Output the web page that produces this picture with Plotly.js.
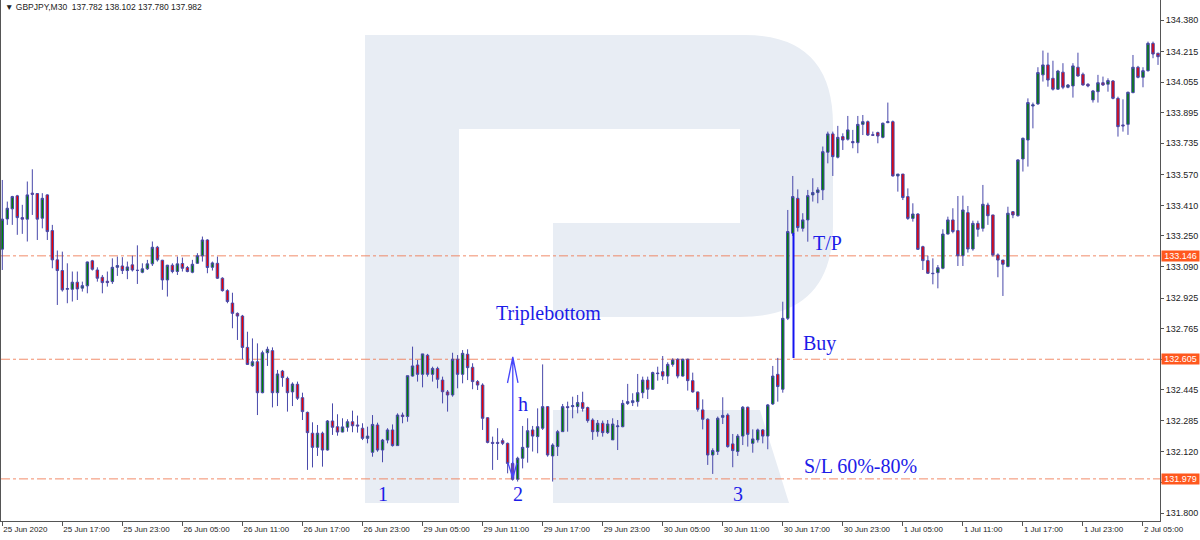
<!DOCTYPE html>
<html>
<head>
<meta charset="utf-8">
<script src="https://cdn.plot.ly/plotly-3.0.1.min.js"></script>
<style>html,body{margin:0;padding:0;background:#fff;}#chart{width:1200px;height:540px;}</style>
</head>
<body>
<div id="chart"></div>
<script>
// ---- data (GBPJPY M30) ----
const openP = [
133.181,133.339,133.392,133.460,133.346,133.338,133.474,133.472,133.343,133.465,
133.278,133.125,133.069,132.971,132.971,133.008,132.977,132.989,133.120,133.072,
133.034,133.013,133.011,133.086,133.093,133.069,133.099,133.070,133.060,133.078,
133.104,133.191,133.123,133.020,133.097,133.064,133.106,133.085,133.060,133.107,
133.146,133.229,133.086,133.107,133.029,132.964,132.899,132.845,132.831,132.667,
132.571,132.592,132.430,132.639,132.650,132.430,132.543,132.505,132.434,132.474,
132.404,132.327,132.218,132.144,132.218,132.130,132.282,132.252,132.224,132.249,
132.278,132.261,132.244,132.191,132.118,132.261,132.130,132.182,132.235,132.153,
132.313,132.305,132.517,132.575,132.526,132.626,132.526,132.557,132.496,132.434,
132.418,132.605,132.526,132.631,132.563,132.488,132.470,132.299,132.170,132.170,
132.179,132.165,132.060,131.977,132.087,132.144,132.235,132.200,132.244,132.357,
132.099,132.148,132.226,132.357,132.357,132.357,132.378,132.352,132.287,132.226,
132.270,132.221,132.183,132.252,132.252,132.374,132.378,132.383,132.430,132.496,
132.448,132.533,132.540,132.517,132.578,132.605,132.517,132.605,132.493,132.434,
132.340,132.291,132.104,132.122,132.301,132.313,132.162,132.122,132.203,132.354,
132.165,132.183,132.235,132.203,132.371,132.526,132.448,132.819,133.264,133.447,
133.290,133.334,133.465,133.477,133.491,133.688,133.784,133.662,133.770,133.756,
133.744,133.738,133.834,133.848,133.780,133.791,133.766,133.843,133.848,133.564,
133.574,133.456,133.342,133.365,133.194,133.121,133.055,133.058,133.081,133.260,
133.334,133.278,133.147,133.372,133.182,133.316,133.290,133.412,133.360,133.151,
133.124,133.090,133.377,133.356,133.653,133.752,133.930,133.941,134.093,134.145,
134.075,134.018,134.107,134.028,134.035,134.133,134.096,134.044,133.962,134.005,
134.052,134.044,134.061,133.970,133.831,133.834,134.000,134.133,134.080,134.115,
134.258,134.206];
const highP = [
133.543,133.430,133.460,133.465,133.413,133.535,133.599,133.474,133.474,133.468,
133.308,133.174,133.168,133.107,133.064,133.064,133.011,133.116,133.125,133.086,
133.046,133.064,133.133,133.142,133.139,133.116,133.147,133.201,133.107,133.125,
133.221,133.198,133.125,133.099,133.107,133.142,133.137,133.093,133.125,133.160,
133.247,133.233,133.116,133.142,133.034,132.971,132.953,132.850,132.837,132.749,
132.714,132.688,132.650,132.671,132.667,132.549,132.549,132.514,132.484,132.488,
132.430,132.331,132.275,132.261,132.226,132.287,132.374,132.317,132.296,132.291,
132.336,132.310,132.270,132.252,132.313,132.273,132.188,132.244,132.264,132.322,
132.326,132.519,132.671,132.601,132.633,132.633,132.566,132.566,132.514,132.444,
132.639,132.627,132.653,132.657,132.584,132.496,132.479,132.301,132.200,132.244,
132.191,132.169,132.069,132.095,132.256,132.296,132.256,132.348,132.578,132.360,
132.165,132.235,132.371,132.383,132.409,132.418,132.435,132.357,132.296,132.287,
132.284,132.287,132.296,132.287,132.392,132.476,132.427,132.528,132.514,132.514,
132.540,132.566,132.622,132.589,132.610,132.610,132.608,132.608,132.535,132.435,
132.395,132.296,132.139,132.305,132.406,132.322,132.214,132.214,132.360,132.357,
132.238,132.242,132.240,132.371,132.570,132.612,132.906,133.386,133.564,133.494,
133.369,133.491,133.552,133.505,133.718,133.796,133.796,133.826,133.787,133.878,
133.805,133.878,133.883,133.854,133.796,133.796,133.843,133.948,133.854,133.574,
133.574,133.499,133.421,133.369,133.199,133.147,133.133,133.098,133.285,133.351,
133.395,133.459,133.461,133.407,133.330,133.330,133.517,133.424,133.360,133.159,
133.124,133.403,133.380,133.651,133.765,133.970,133.948,134.133,134.220,134.209,
134.167,134.119,134.154,134.045,134.154,134.209,134.105,134.049,134.014,134.093,
134.084,134.075,134.066,133.979,133.965,134.005,134.197,134.140,134.133,134.267,
134.267,134.209];
const lowP = [
133.072,133.308,133.308,133.256,133.261,133.221,133.360,133.229,133.290,133.229,
133.081,132.889,132.959,132.898,132.907,132.915,132.959,132.950,133.069,133.011,
132.950,132.985,132.999,133.041,133.051,133.024,133.064,132.999,133.055,133.072,
133.093,133.116,132.968,132.933,133.055,133.046,133.064,133.060,133.055,133.104,
133.116,133.055,133.069,133.025,132.959,132.898,132.767,132.706,132.605,132.575,
132.566,132.313,132.427,132.570,132.353,132.360,132.461,132.331,132.360,132.392,
132.287,132.026,132.039,132.099,132.043,132.127,132.209,132.205,132.223,132.226,
132.223,132.221,132.182,132.165,132.095,132.121,132.066,132.165,132.148,132.151,
132.270,132.278,132.514,132.488,132.458,132.514,132.488,132.453,132.374,132.331,
132.409,132.453,132.479,132.496,132.448,132.444,132.235,132.165,132.026,132.078,
132.156,132.008,131.970,131.965,132.034,132.064,132.122,132.113,132.235,132.095,
131.965,132.099,132.226,132.226,132.296,132.322,132.331,132.273,132.183,132.200,
132.200,132.214,132.183,132.130,132.249,132.366,132.360,132.357,132.401,132.397,
132.444,132.493,132.496,132.476,132.566,132.505,132.514,132.441,132.430,132.331,
132.238,132.052,132.005,132.104,132.266,132.142,132.040,132.099,132.156,132.148,
132.116,132.169,132.165,132.134,132.366,132.383,132.430,132.810,133.250,133.273,
133.273,133.220,133.430,133.421,133.438,133.630,133.564,133.656,133.700,133.749,
133.709,133.683,133.778,133.773,133.773,133.735,133.761,133.840,133.561,133.482,
133.438,133.334,133.325,133.177,133.072,133.051,132.997,132.976,133.076,133.258,
133.264,133.093,133.093,133.163,133.173,133.246,133.273,133.308,133.142,133.034,
132.936,133.086,133.343,133.351,133.587,133.613,133.813,133.936,134.058,134.031,
134.011,134.014,134.018,134.023,133.974,134.084,134.037,134.028,133.948,133.948,
134.035,134.005,133.965,133.770,133.796,133.779,133.997,134.075,134.028,134.110,
134.180,134.145];
const closeP = [
133.338,133.395,133.456,133.346,133.338,133.465,133.468,133.338,133.447,133.273,
133.125,133.069,132.968,132.975,133.008,132.973,132.990,133.114,133.076,133.029,
133.006,133.006,133.086,133.095,133.069,133.088,133.072,133.070,133.078,133.104,
133.191,133.125,133.020,133.097,133.064,133.104,133.081,133.064,133.102,133.147,
133.229,133.085,133.109,133.029,132.964,132.907,132.845,132.831,132.667,132.578,
132.592,132.430,132.639,132.657,132.430,132.528,132.509,132.430,132.475,132.401,
132.331,132.221,132.144,132.218,132.130,132.282,132.249,132.224,132.251,132.278,
132.257,132.256,132.191,132.203,132.264,132.130,132.182,132.235,132.153,132.313,
132.305,132.519,132.570,132.526,132.633,132.526,132.557,132.500,132.435,132.418,
132.605,132.526,132.636,132.561,132.488,132.470,132.296,132.170,132.165,132.165,
132.165,132.060,131.977,132.087,132.144,132.231,132.203,132.252,132.357,132.104,
132.156,132.226,132.357,132.352,132.362,132.378,132.348,132.284,132.226,132.270,
132.221,132.266,132.266,132.256,132.374,132.383,132.388,132.430,132.496,132.448,
132.535,132.530,132.517,132.578,132.601,132.517,132.605,132.493,132.434,132.343,
132.291,132.104,132.127,132.296,132.311,132.148,132.127,132.203,132.354,132.212,
132.188,132.235,132.203,132.366,132.517,132.462,132.819,133.273,133.456,133.294,
133.334,133.461,133.477,133.491,133.691,133.784,133.665,133.766,133.752,133.805,
133.738,133.834,133.848,133.778,133.777,133.773,133.840,133.848,133.564,133.574,
133.451,133.342,133.365,133.180,133.121,133.055,133.053,133.084,133.260,133.334,
133.273,133.147,133.386,133.182,133.316,133.285,133.416,133.356,133.151,133.124,
133.102,133.369,133.360,133.648,133.761,133.948,133.936,134.105,134.145,134.066,
134.018,134.113,134.028,134.040,134.140,134.087,134.040,134.035,134.009,134.052,
134.040,134.063,133.970,133.822,133.826,134.002,134.133,134.080,134.115,134.258,
134.202,134.188];

const xTickLabels = ["25 Jun 2020","25 Jun 17:00","25 Jun 23:00","26 Jun 05:00","26 Jun 11:00",
"26 Jun 17:00","26 Jun 23:00","29 Jun 05:00","29 Jun 11:00","29 Jun 17:00","29 Jun 23:00",
"30 Jun 05:00","30 Jun 11:00","30 Jun 17:00","30 Jun 23:00","1 Jul 05:00","1 Jul 11:00",
"1 Jul 17:00","1 Jul 23:00","2 Jul 05:00"];
const barsPerTick = 12;
const yTickValues = [134.380,134.215,134.055,133.895,133.735,133.570,133.410,133.250,133.090,
132.925,132.765,132.605,132.445,132.285,132.120,131.960,131.800];
const levels = [133.146, 132.605, 131.979];
const headerText = "GBPJPY,M30  137.782 138.102 137.780 137.982";

// ---- layout helpers ----
const W = 1200, H = 540;
const M = {l: 1, r: 40, t: 0, b: 19};
const pw = W - M.l - M.r, ph = H - M.t - M.b;
const PX = x => (x - M.l) / pw;
const PY = y => 1 - (y - M.t) / ph;
function path(cmds) {
  return cmds.map(c => {
    if (c.length === 1) return c[0];
    let s = c[0];
    for (let k = 1; k < c.length; k += 2) s += ' ' + PX(c[k]).toFixed(5) + ',' + PY(c[k+1]).toFixed(5);
    return s;
  }).join(' ');
}

const idx = openP.map((_, i) => i);
const tickVals = xTickLabels.map((_, k) => k * barsPerTick);
// a tick label hidden behind a level badge on the price scale is left blank
const yTickText = yTickValues.map(v => levels.some(l => Math.abs(l - v) < 0.03) && !levels.includes(v) ? '' : v.toFixed(3));

const logoColor = 'rgb(232,237,244)';
const blueText = 'rgb(28,28,232)';
const arrowBlue = 'rgb(70,70,250)';
const levelColor = 'rgba(240,120,80,0.85)';

const shapes = [
  // stylised R watermark
  {type:'path', xref:'paper', yref:'paper', layer:'below', line:{width:0}, fillcolor:logoColor,
   path: path([['M',365,35],['L',745,35],['Q',833,35,833,125],['L',833,225],['Q',833,317,740,317],
     ['L',553,317],['L',553,223],['L',740,223],['L',740,129],['L',459,129],['L',459,503],['L',365,503],['Z']])},
  {type:'path', xref:'paper', yref:'paper', layer:'below', line:{width:0}, fillcolor:logoColor,
   path: path([['M',553,410],['L',760,410],['L',789,503],['L',553,503],['Z']])},
];
levels.forEach(v => shapes.push({type:'line', xref:'paper', yref:'y', x0:0, x1:1, y0:v, y1:v,
  layer:'below', line:{color:levelColor, width:1, dash:'dashdot'}}));
// h arrow (double headed)
shapes.push({type:'path', xref:'paper', yref:'paper', layer:'above', line:{color:arrowBlue, width:1.3},
  path: path([['M',512.8,478],['L',512.8,357],['M',507.5,383],['L',512.8,357],['L',518,383],
              ['M',508,463],['L',512.8,478],['L',517,463]])});
// Buy line
shapes.push({type:'line', xref:'paper', yref:'paper', layer:'above', x0:PX(793.5), x1:PX(793.5),
  y0:PY(233), y1:PY(358), line:{color:'rgb(20,20,240)', width:2}});

function txt(t, x, y, opts) {
  return Object.assign({text:t, xref:'paper', yref:'paper', x:PX(x), y:PY(y), showarrow:false,
    xanchor:'center', yanchor:'middle', font:{family:'Liberation Serif, serif', size:20, color:blueText}}, opts||{});
}
const annotations = [
  {text:'▼ ' + headerText, xref:'paper', yref:'paper', x:PX(3), y:PY(7), xanchor:'left', yanchor:'middle',
   showarrow:false, font:{family:'Liberation Sans, Arial', size:8.5, color:'#222'}},
  txt('Triplebottom', 548.5, 313),
  txt('T/P', 828, 243),
  txt('Buy', 819, 343),
  txt('S/L 60%-80%', 802, 466, {xanchor:'left'}),
  txt('1', 383, 494),
  txt('2', 518, 494),
  txt('3', 738, 494),
  txt('h', 523, 404),
];
levels.forEach(v => annotations.push({text:v.toFixed(3), xref:'paper', yref:'y', x:1, y:v,
  xanchor:'left', yanchor:'middle', xshift:1, showarrow:false, bgcolor:'rgb(255,88,30)',
  width:37, height:10, borderpad:0, align:'center',
  font:{family:'Liberation Sans, Arial', size:9, color:'#ffffff'}}));

const trace = {
  type:'candlestick', x: idx, open: openP, high: highP, low: lowP, close: closeP,
  increasing:{line:{color:'rgb(72,72,170)', width:1}, fillcolor:'rgb(0,128,0)'},
  decreasing:{line:{color:'rgb(72,72,170)', width:1}, fillcolor:'rgb(235,0,0)'},
  whiskerwidth:0, hoverinfo:'skip', showlegend:false
};

const layout = {
  width:W, height:H, margin:M, paper_bgcolor:'#fff', plot_bgcolor:'#fff', showlegend:false,
  shapes: shapes, annotations: annotations,
  xaxis:{range:[-0.26, 231.4], tickvals:tickVals, ticktext:xTickLabels, ticks:'outside', ticklen:4,
    tickcolor:'#555', showline:true, linecolor:'#555', linewidth:1, showgrid:false, zeroline:false,
    ticklabelposition:'outside right', tickfont:{family:'Liberation Sans, Arial', size:8, color:'#222'},
    rangeslider:{visible:false}, fixedrange:true},
  yaxis:{side:'right', range:[131.7586, 134.4847], tickvals:yTickValues,
    ticktext:yTickText, ticks:'outside', ticklen:3, tickcolor:'#555',
    showline:true, mirror:true, linecolor:'#555', linewidth:1, showgrid:false, zeroline:false,
    tickfont:{family:'Liberation Sans, Arial', size:9, color:'#222'}, fixedrange:true}
};

Plotly.newPlot('chart', [trace], layout, {staticPlot:true, displayModeBar:false});
</script>
</body>
</html>
